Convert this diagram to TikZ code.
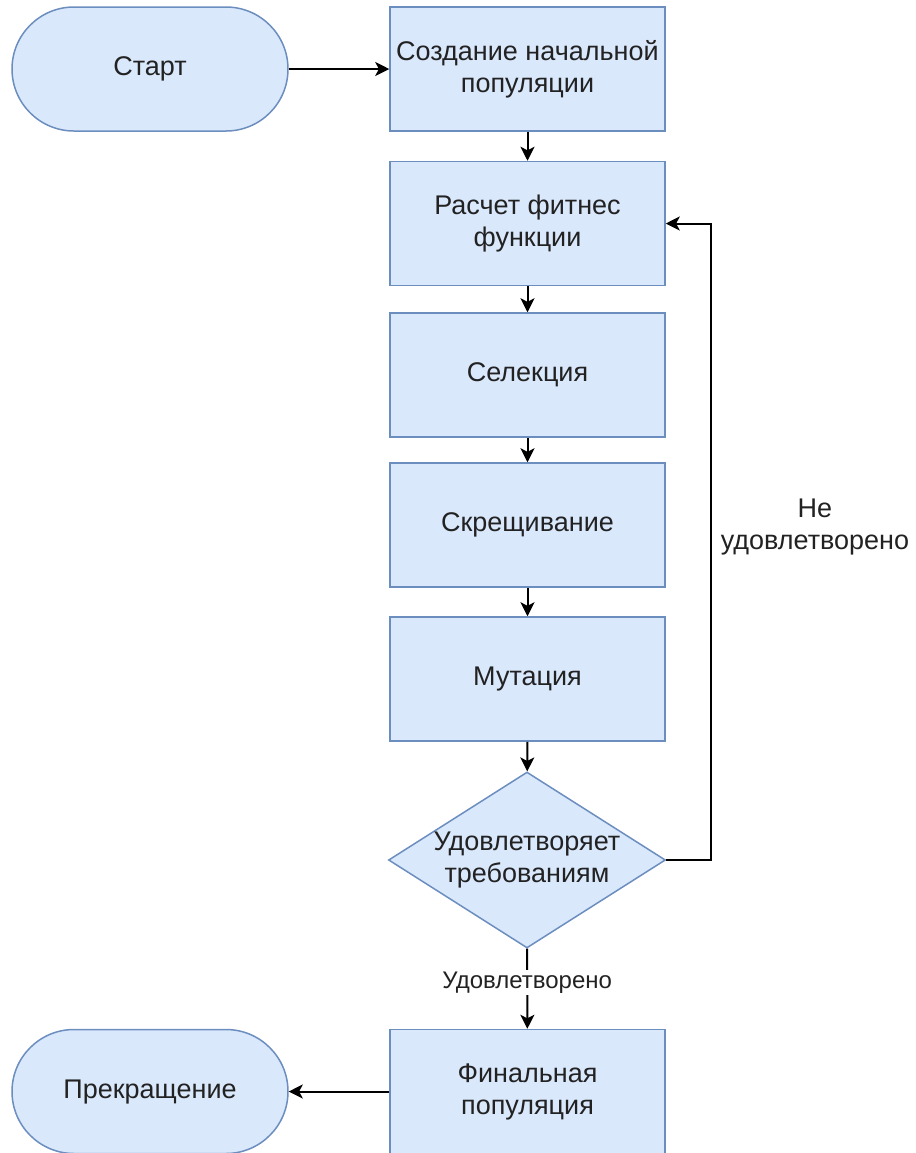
\documentclass[tikz,border=0pt]{standalone}
\usepackage{fontspec}
\setmainfont{Liberation Sans}
\usepackage{tikz}
\usetikzlibrary{shapes,arrows.meta,positioning,calc}

\definecolor{boxfill}{HTML}{DAE8FC}
\definecolor{boxline}{HTML}{6C8EBF}
\definecolor{txt}{HTML}{222222}

\begin{document}
\begin{tikzpicture}[x=0.5pt, y=-0.5pt,
    every node/.style={text=txt, font=\fontsize{13.5pt}{16pt}\selectfont},
    procbox/.style={draw=boxline, fill=boxfill, line width=0.75pt, minimum width=137.5pt, minimum height=62pt, inner sep=0pt, align=center},
    termbox/.style={procbox, minimum width=138pt, rounded corners=31pt},
    decbox/.style={draw=boxline, fill=boxfill, line width=0.75pt, diamond, shape aspect=1.57, minimum width=138.5pt, minimum height=88pt, inner sep=0pt, align=center},
    flow/.style={draw=black, line width=1pt, -{Stealth[length=7pt, width=7pt, inset=1.8pt]}},
    lbl/.style={fill=white, inner sep=1pt, font=\fontsize{12pt}{14pt}\selectfont}]
    \useasboundingbox (0,0) rectangle (916,1153);

    % Start and first population
    \node[termbox] (start) at (150,69) {Старт};
    \node[procbox] (init) at (527.5,69) {Создание начальной\\популяции};

    % Main loop
    \node[procbox] (fit) at (527.5,223.5) {Расчет фитнес\\функции};
    \node[procbox] (sel) at (527.5,375) {Селекция};
    \node[procbox] (cross) at (527.5,525) {Скрещивание};
    \node[procbox] (mut) at (527.5,679) {Мутация};
    \node[decbox] (check) at (527,860) {Удовлетворяет\\требованиям};

    % End
    \node[procbox] (final) at (527.5,1091.5) {Финальная\\популяция};
    \node[termbox] (stop) at (150,1091.5) {Прекращение};

    \draw[flow] (start) -- (init);
    \draw[flow] (init) -- (fit);
    \draw[flow] (fit) -- (sel);
    \draw[flow] (sel) -- (cross);
    \draw[flow] (cross) -- (mut);
    \draw[flow] (mut) -- (check);
    \draw[flow] (check) -- node[lbl, pos=0.42] {Удовлетворено} (final);
    \draw[flow] (final) -- (stop);

    % Loop back
    \draw[flow] (check.east) -- ++(45,0) |- (fit.east);
    \node[align=center] (nosat) at (815,527) {Не\\удовлетворено};
\end{tikzpicture}
\end{document}
